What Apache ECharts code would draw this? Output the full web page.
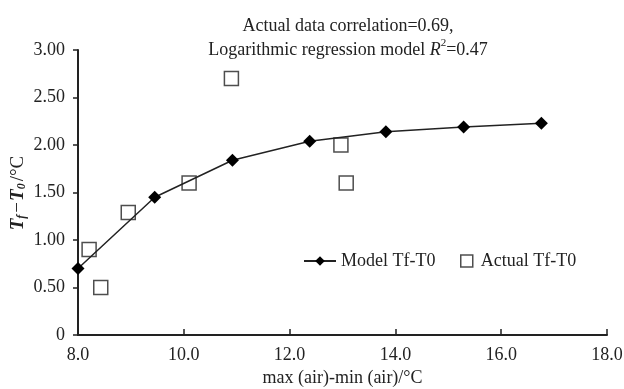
<!DOCTYPE html>
<html>
<head>
<meta charset="utf-8">
<script src="https://cdn.jsdelivr.net/npm/echarts@6/dist/echarts.min.js"></script>
<style>
  html, body { margin: 0; padding: 0; background: #fff; }
  #chart { width: 624px; height: 389px; }
</style>
</head>
<body>
<div id="chart"></div>
<script>
// model curve (diamonds + line)
let modelX = [8.0, 9.45, 10.92, 12.38, 13.82, 15.29, 16.76];
let modelY = [0.70, 1.45, 1.84, 2.04, 2.14, 2.19, 2.23];
// actual points (open squares)
let actualX = [8.21, 8.43, 8.95, 10.1, 10.9, 12.97, 13.07];
let actualY = [0.90, 0.50, 1.29, 1.60, 2.70, 2.00, 1.60];

let titleLines = ['Actual data correlation=0.69,', 'Logarithmic regression model {i|R}{sup|2}=0.47'];

const FONT = '"Liberation Serif", "DejaVu Serif", serif';
const INK = '#222';
const FS = 18;

function pairs(xs, ys) {
    return xs.map((x, i) => [x, ys[i]]);
}

let chart = echarts.init(document.getElementById('chart'), null, {renderer: 'canvas'});

let option = {
    backgroundColor: '#fff',
    animation: false,
    textStyle: {fontFamily: FONT, color: INK},
    title: {
        text: titleLines.join('\n'),
        left: 343,
        top: 9,
        textAlign: 'center',
        textStyle: {
            fontFamily: FONT, fontSize: FS, fontWeight: 'normal', color: INK, lineHeight: 24,
            rich: {
                i: {fontFamily: FONT, fontSize: FS, fontStyle: 'italic', color: INK},
                sup: {fontFamily: FONT, fontSize: 11, color: INK, verticalAlign: 'top', padding: [0, 0, 9, 0]}
            }
        }
    },
    legend: [
        {
            left: 298,
            top: 247,
            itemWidth: 32,
            itemHeight: 12,
            textStyle: {fontFamily: FONT, fontSize: FS, color: INK},
            data: [{name: 'Model Tf-T0'}]
        },
        {
            left: 455,
            top: 247,
            itemWidth: 12,
            itemHeight: 12,
            itemGap: 0,
            textStyle: {fontFamily: FONT, fontSize: FS, color: INK, padding: [0, 0, 0, 3]},
            data: [{name: 'Actual Tf-T0', icon: 'rect',
                itemStyle: {color: '#fff', borderColor: INK, borderWidth: 1.5}}]
        }
    ],
    grid: {left: 78, right: 17, top: 50, bottom: 54, containLabel: false, outerBoundsMode: 'none'},
    xAxis: {
        type: 'value',
        min: 8, max: 18, interval: 2,
        name: 'max (air)-min (air)/°C',
        nameLocation: 'middle',
        nameGap: 34,
        nameMoveOverlap: false,
        nameTextStyle: {fontFamily: FONT, fontSize: FS, color: INK},
        axisLine: {lineStyle: {color: INK, width: 2}},
        axisTick: {inside: true, length: 6, lineStyle: {color: INK, width: 1.5}},
        axisLabel: {fontFamily: FONT, fontSize: FS, color: INK, margin: 11,
            formatter: v => v.toFixed(1)},
        splitLine: {show: false}
    },
    yAxis: {
        type: 'value',
        min: 0, max: 3, interval: 0.5,
        name: '{i|T}{sub|f}{n|−}{i|T}{sub|0}{n|/°C}',
        nameLocation: 'middle',
        nameGap: 50,
        nameRotate: 90,
        nameMoveOverlap: false,
        nameTextStyle: {
            fontFamily: FONT, fontSize: 19, color: INK,
            rich: {
                i: {fontFamily: FONT, fontSize: 19, fontStyle: 'italic', fontWeight: 'bold', color: INK},
                sub: {fontFamily: FONT, fontSize: 12, fontStyle: 'italic', fontWeight: 'bold', color: INK,
                    verticalAlign: 'bottom', padding: [7, 2, 0, 0]},
                n: {fontFamily: FONT, fontSize: 19, color: INK, padding: [0, 1, 0, 0]}
            }
        },
        axisLine: {show: true, lineStyle: {color: INK, width: 2}},
        axisTick: {show: true, length: 5, lineStyle: {color: INK, width: 1.5}},
        axisLabel: {fontFamily: FONT, fontSize: FS, color: INK, margin: 13,
            formatter: v => v === 0 ? '0' : v.toFixed(2)},
        splitLine: {show: false}
    },
    series: [
        {
            name: 'Model Tf-T0',
            type: 'line',
            data: pairs(modelX, modelY),
            symbol: 'diamond',
            symbolSize: 13,
            itemStyle: {color: '#000'},
            lineStyle: {color: INK, width: 1.5},
            z: 3
        },
        {
            name: 'Actual Tf-T0',
            type: 'scatter',
            data: pairs(actualX, actualY),
            symbol: 'rect',
            symbolSize: 14,
            itemStyle: {color: 'rgba(255,255,255,0)', borderColor: INK, borderWidth: 1.5},
            z: 4
        }
    ]
};

chart.setOption(option);
</script>
</body>
</html>
